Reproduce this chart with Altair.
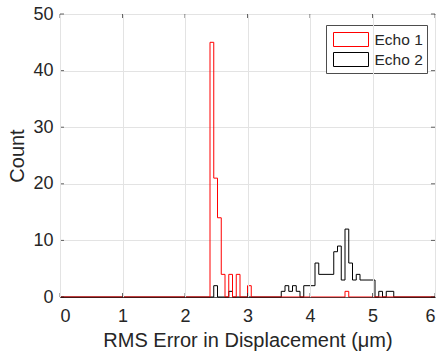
import altair as alt
import pandas as pd

# Echo 1 histogram (stairs): bin edge -> count from that edge on
red_edges = [0.0, 2.40, 2.46, 2.52, 2.58, 2.64, 2.70, 2.76, 2.82, 2.88, 3.00, 3.06, 4.56, 4.62, 6.0]
red_counts = [0, 45, 21, 14, 4, 0, 4, 0, 4, 0, 2, 0, 1, 0, 0]

# Echo 2 histogram (stairs)
black_edges = [0.0, 2.46, 2.52, 2.70, 2.76, 3.54, 3.60, 3.66, 3.72, 3.78, 3.84, 3.90, 4.08, 4.14,
               4.38, 4.44, 4.50, 4.56, 4.62, 4.68, 4.74, 4.80, 5.04, 5.10, 5.16, 5.22, 5.34, 6.0]
black_counts = [0, 2, 0, 1, 0, 1, 2, 1, 2, 1, 0, 2, 6, 4,
                8, 9, 3, 12, 6, 3, 4, 3, 0, 1, 0, 1, 0, 0]

series_names = ["Echo 1", "Echo 2"]
series_colors = ["#ff0000", "#000000"]

x_ticks = [0, 1, 2, 3, 4, 5, 6]
y_ticks = [0, 10, 20, 30, 40, 50]

FONT = "Liberation Sans"
AX = "#262626"

red_df = pd.DataFrame({"x": red_edges, "y": red_counts, "series": series_names[0]})
black_df = pd.DataFrame({"x": black_edges, "y": black_counts, "series": series_names[1]})

xscale = alt.Scale(domain=[0, 6], nice=False, zero=False)
yscale = alt.Scale(domain=[0, 50], nice=False)

color = alt.Color(
    "series:N",
    scale=alt.Scale(domain=series_names, range=series_colors),
    legend=alt.Legend(
        title=None,
        orient="none",
        legendX=266,
        legendY=11,
        symbolType="M-1.75,-0.7H1.75V0.7H-1.75Z",
        symbolSize=400,
        symbolOffset=10.5,
        symbolStrokeWidth=1,
        symbolFillColor="white",
        labelFont=FONT,
        labelFontSize=15.5,
        labelColor=AX,
        labelOffset=13,
        labelExpr="datum.label + '\u00a0\u00a0\u00a0'",
        strokeColor="#4d4d4d",
        fillColor="white",
        padding=4,
        rowPadding=0,
    ),
)

x_enc = alt.X(
    "x:Q",
    scale=xscale,
    axis=alt.Axis(
        values=x_ticks,
        format="d",
        title="RMS Error in Displacement (μm)",
        ticks=False,
        labelFontSize=18,
        titleFontSize=20,
        labelPadding=10,
        titlePadding=5,
        zindex=1,
        domainOpacity=0.6,
    ),
)
y_enc = alt.Y(
    "y:Q",
    scale=yscale,
    axis=alt.Axis(
        values=y_ticks,
        format="d",
        title="Count",
        ticks=False,
        labelFontSize=18,
        titleFontSize=20,
        labelPadding=7,
        titlePadding=5,
    ),
)

black_line = alt.Chart(black_df).mark_line(interpolate="step-after", strokeWidth=1).encode(
    x=x_enc, y=y_enc, color=color
)
red_line = alt.Chart(red_df).mark_line(interpolate="step-after", strokeWidth=1).encode(
    x=x_enc, y=y_enc, color=color
)

xt = pd.DataFrame({"x": x_ticks})
yt = pd.DataFrame({"y": y_ticks})
tick_bottom = alt.Chart(xt).mark_tick(orient="vertical", size=4, thickness=1, yOffset=-2, color=AX).encode(
    x=alt.X("x:Q", scale=xscale), y=alt.datum(0)
)
tick_top = alt.Chart(xt).mark_tick(orient="vertical", size=4, thickness=1, yOffset=2, color=AX).encode(
    x=alt.X("x:Q", scale=xscale), y=alt.datum(50)
)
tick_left = alt.Chart(yt).mark_tick(orient="horizontal", size=4, thickness=1, xOffset=2, color=AX).encode(
    y=alt.Y("y:Q", scale=yscale), x=alt.datum(0)
)
tick_right = alt.Chart(yt).mark_tick(orient="horizontal", size=4, thickness=1, xOffset=-2, color=AX).encode(
    y=alt.Y("y:Q", scale=yscale), x=alt.datum(6)
)

chart = (
    alt.layer(black_line, red_line, tick_bottom, tick_top, tick_left, tick_right)
    .properties(
        width=375,
        height=283,
        padding={"left": 60, "top": 14, "right": 5, "bottom": 55},
        autosize=alt.AutoSizeParams(type="none"),
        background="white",
    )
    .configure_view(stroke=AX, strokeWidth=1)
    .configure_axis(
        labelFont=FONT,
        titleFont=FONT,
        labelColor=AX,
        titleColor=AX,
        titleFontWeight="normal",
        domainColor="#000000",
        gridColor="#e3e3e3",
        gridWidth=1,
    )
)

chart.save("out.html", embed_options={"renderer": "svg", "actions": False})
